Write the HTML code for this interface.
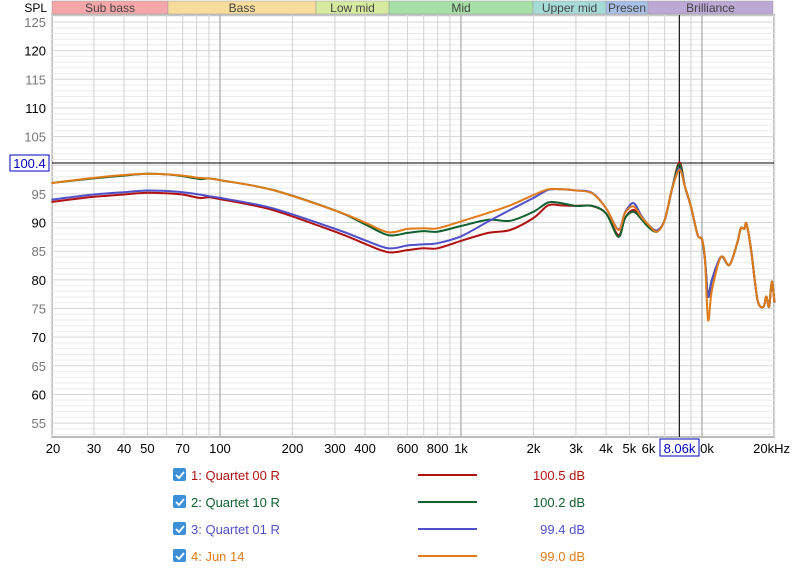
<!DOCTYPE html>
<html><head><meta charset="utf-8">
<style>
body{margin:0;background:#fff;width:800px;height:573px;overflow:hidden;font-family:"Liberation Sans",sans-serif;}
svg{display:block}
</style></head>
<body>
<svg id="chart" width="800" height="573" xmlns="http://www.w3.org/2000/svg">
<g id="bands"></g>
<g id="grid"></g>
<g id="series"></g>
<g id="axes"></g>
<g id="legend"></g>
</svg>
<script>
const freqs=[20,30,40,50,60,70,82,90,100,165,310,400,500,600,700,800,1000,1300,1600,2000,2300,2600,3000,3500,4000,4500,4800,5200,5600,6000,6500,7000,7500,8060,8500,9000,9600,10000,10300,10600,11000,12000,13000,14000,14500,15000,15300,16000,17000,18000,18500,19000,19500,20000];
const seriesRed=[93.6,94.5,94.9,95.2,95.1,94.9,94.3,94.4,94.1,92.2,88.2,86.3,84.8,85.2,85.5,85.5,86.8,88.2,88.7,90.8,93.0,93.0,92.9,92.9,91.6,87.8,90.8,92.2,91.0,89.4,88.6,90.4,95.7,100.5,96.3,92.8,87.8,87.1,83.5,77.1,80.0,84.0,82.6,86.4,89.0,88.9,89.8,85.2,76.5,75.3,77.1,75.3,79.7,76.0];
const seriesGreen=[96.9,97.7,98.2,98.5,98.4,98.1,97.6,97.7,97.4,95.7,91.9,89.7,87.8,88.2,88.5,88.4,89.4,90.5,90.3,91.9,93.5,93.4,92.9,92.9,91.6,87.5,90.8,91.9,90.6,89.2,88.4,90.4,95.7,100.2,96.3,92.8,87.8,87.1,83.5,77.1,80.0,84.0,82.6,86.4,89.0,88.9,89.8,85.2,76.5,75.3,77.1,75.3,79.7,76.0];
const seriesBlue=[94.0,94.9,95.3,95.6,95.5,95.3,94.9,94.6,94.3,92.5,88.7,86.9,85.5,86.0,86.2,86.4,87.6,90.2,92.2,94.3,95.7,95.8,95.6,95.2,92.5,88.8,91.8,93.4,91.2,89.6,88.6,90.4,95.7,99.4,96.3,92.8,87.8,87.1,83.5,77.1,80.0,84.0,82.6,86.4,89.0,88.9,89.8,85.2,76.5,75.3,77.1,75.3,79.7,76.0];
const seriesOrange=[96.9,97.8,98.3,98.5,98.4,98.2,97.8,97.7,97.4,95.7,91.9,90.0,88.3,88.9,89.0,89.0,90.2,91.7,93.0,94.8,95.8,95.8,95.6,95.1,92.5,88.7,91.7,92.8,91.0,89.6,88.4,90.4,95.7,99.2,96.3,92.8,87.8,87.1,83.5,73.0,78.2,84.0,82.6,86.4,89.0,88.9,89.8,85.2,76.5,75.3,77.1,75.3,79.7,76.0];
const xTicks=[20,30,40,50,70,100,200,300,400,600,800,1000,2000,3000,4000,5000,6000,10000,20000];
const xTickLabels=["20","30","40","50","70","100","200","300","400","600","800","1k","2k","3k","4k","5k","6k","0k","20kHz"];
const yTicks=[55,60,65,70,75,80,85,90,95,105,110,115,120,125];
const seriesNames=["1: Quartet 00 R","2: Quartet 10 R","3: Quartet 01 R","4: Jun 14"];
const seriesValues=["100.5 dB","100.2 dB","99.4 dB","99.0 dB"];
const seriesColors=["#b01010","#106030","#5050c8","#e07c18"];
const cursorFreq=8060, cursorDb=100.4;

const NS="http://www.w3.org/2000/svg";
const L=52,R=774,T=15,B=437;
const X=f=>51.5+241*Math.log10(f/20);
const Y=d=>22+(125-d)*5.73;
function el(t,a,p){const e=document.createElementNS(NS,t);for(const k in a)e.setAttribute(k,a[k]);p.appendChild(e);return e;}

const bands=[["Sub bass",52,168,"#f4a6a8"],["Bass",168,316,"#f8dc9c"],["Low mid",316,389,"#d6eaa0"],["Mid",389,533,"#a6e0a8"],["Upper mid",533,606,"#a6dcd8"],["Presen",606,648,"#a8c0e8"],["Brilliance",648,773,"#bca8d4"]];
const bg=document.getElementById('bands');
bands.forEach(b=>{
 const r=el('rect',{x:b[1],y:1,width:b[2]-b[1],height:13,fill:b[3],stroke:"#999","stroke-width":0.5},bg);
 
 
 const t=el('text',{x:(b[1]+b[2])/2,y:12,"text-anchor":"middle","font-size":12,fill:"#444"},bg);t.textContent=b[0];
});
const spl=el('text',{x:47,y:12,"text-anchor":"end","font-size":12,fill:"#000"},bg);spl.textContent="SPL";

const g=document.getElementById('grid');
el('rect',{x:L,y:T,width:R-L,height:B-T,fill:"#fff",stroke:"#bbb","stroke-width":2},g);
for(let d=53;d<=126;d++){const y=Y(d);if(y<T||y>B)continue;el('line',{x1:L,x2:R,y1:y,y2:y,stroke:d%5==0?"#d6d6d6":"#ececec","stroke-width":1},g);}
const vlines=[];for(let dec=10;dec<=10000;dec*=10)for(let m=1;m<=9;m++){const f=dec*m;if(f>=20&&f<=20000)vlines.push(f);}vlines.push(20000);
vlines.forEach(f=>{const x=X(f);const major=(f==100||f==1000||f==10000);el('line',{x1:x,x2:x,y1:T,y2:B,stroke:major?"#b8b8b8":"#d8d8d8","stroke-width":major?1.5:1.2},g);});
el('line',{x1:X(cursorFreq),x2:X(cursorFreq),y1:T,y2:B,stroke:"#000","stroke-width":1},g);
el('line',{x1:L,x2:R,y1:Y(cursorDb),y2:Y(cursorDb),stroke:"#000","stroke-width":1},g);

function path(vals){
 const p=freqs.map((f,i)=>[X(f),Y(vals[i])]);
 let d="M"+p[0][0].toFixed(1)+","+p[0][1].toFixed(1);
 for(let i=0;i<p.length-1;i++){const p0=p[i-1]||p[i],p1=p[i],p2=p[i+1],p3=p[i+2]||p2;const t=0.16;
  const c1=[p1[0]+(p2[0]-p0[0])*t,p1[1]+(p2[1]-p0[1])*t],c2=[p2[0]-(p3[0]-p1[0])*t,p2[1]-(p3[1]-p1[1])*t];
  d+=` C${c1[0].toFixed(1)},${c1[1].toFixed(1)} ${c2[0].toFixed(1)},${c2[1].toFixed(1)} ${p2[0].toFixed(1)},${p2[1].toFixed(1)}`;}
 return d;}
const sg=document.getElementById('series');
const allSeries=[seriesRed,seriesGreen,seriesBlue,seriesOrange];
const snames=['series-quartet-00-r','series-quartet-10-r','series-quartet-01-r','series-jun-14'];
allSeries.forEach((v,i)=>{const p=el('path',{d:path(v),fill:"none",stroke:seriesColors[i],"stroke-width":2,"stroke-linejoin":"round"},sg);
 
 });

const ax=document.getElementById('axes');
yTicks.forEach(d=>{const t=el('text',{x:46,y:Y(d)+5,"text-anchor":"end","font-size":13,fill:d%10==0?"#000":"#777"},ax);t.textContent=d;});
xTicks.forEach((f,i)=>{let x=X(f);let a="middle";if(i==0){x=53;}if(i==xTicks.length-1){x=790;a="end";}if(f==10000)x=707;
 const t=el('text',{x:x,y:453,"text-anchor":a,"font-size":13,fill:"#000"},ax);t.textContent=xTickLabels[i];});
const yb=el('rect',{x:10,y:155,width:39,height:16,fill:"#fff",stroke:"#0000c0","stroke-width":1},ax);


const yt=el('text',{x:29.5,y:168,"text-anchor":"middle","font-size":13,fill:"#0000c0"},ax);yt.textContent="100.4";
const xb=el('rect',{x:660,y:439,width:39,height:17,fill:"#fff",stroke:"#0000c0","stroke-width":1},ax);


const xt=el('text',{x:679.5,y:453,"text-anchor":"middle","font-size":13,fill:"#0000c0"},ax);xt.textContent="8.06k";

const lg=document.getElementById('legend');
seriesNames.forEach((n,i)=>{const y=475+i*27;
 const cb=el('rect',{x:173,y:y-7,width:13,height:13,rx:2,fill:"#3d8fd8"},lg);
 
 
 el('path',{d:`M${176},${y} l3,3 l5,-6`,fill:"none",stroke:"#fff","stroke-width":1.8},lg);
 const t=el('text',{x:191,y:y+5,"font-size":13,fill:seriesColors[i]},lg);t.textContent=n;
 
 
 el('line',{x1:418,x2:477,y1:y,y2:y,stroke:seriesColors[i],"stroke-width":2},lg);
 const v=el('text',{x:585,y:y+5,"text-anchor":"end","font-size":13,fill:seriesColors[i]},lg);v.textContent=seriesValues[i];
 
 
});
</script>
</body></html>
